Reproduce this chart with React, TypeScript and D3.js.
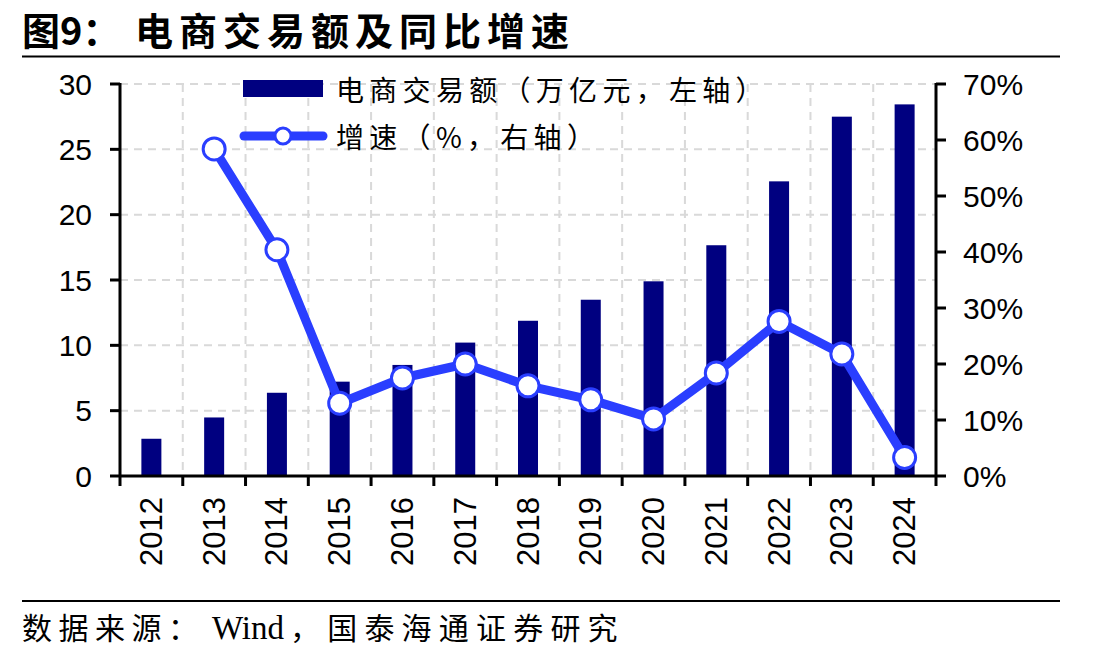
import * as d3 from 'd3';
import React from 'react';

const years = ['2012', '2013', '2014', '2015', '2016', '2017', '2018', '2019', '2020', '2021', '2022', '2023', '2024'];
const tradeVolume = [2.85, 4.48, 6.37, 7.22, 8.5, 10.21, 11.88, 13.49, 14.9, 17.66, 22.55, 27.5, 28.44];
const growth = [null, 58.4, 40.4, 13.0, 17.5, 20.0, 16.1, 13.6, 10.2, 18.4, 27.6, 21.8, 3.3];
const leftTicks = [0, 5, 10, 15, 20, 25, 30];
const rightTicks = [0, 10, 20, 30, 40, 50, 60, 70];

const BAR = '#000080';
const LINE = '#2a3eff';
const NUM_FONT = '"Liberation Sans", Arial, sans-serif';
const SERIF_FONT = '"Liberation Serif", "Times New Roman", serif';
const CJK_FONT = '"Noto Sans CJK SC", sans-serif';

const W = 1108;
const H = 660;
const plot = { left: 120, right: 936, top: 84, bottom: 476 };

const App = (): JSX.Element => {
  const x = d3.scaleBand<string>().domain(years).range([plot.left, plot.right]).padding(0);
  const yL = d3.scaleLinear().domain([0, 30]).range([plot.bottom, plot.top]);
  const yR = d3.scaleLinear().domain([0, 70]).range([plot.bottom, plot.top]);
  const barW = 20;
  const cx = (yr: string) => (x(yr) as number) + x.bandwidth() / 2;

  const pts = years
    .map((yr, i) => ({ yr, v: growth[i] }))
    .filter((d) => d.v !== null) as { yr: string; v: number }[];

  const linePath = d3
    .line<{ yr: string; v: number }>()
    .x((d) => cx(d.yr))
    .y((d) => yR(d.v))(pts);

  // category boundaries for the vertical grid and the bottom ticks
  const bounds = years.map((yr) => x(yr) as number).concat([plot.right]);

  return (
    <svg width={W} height={H} style={{ position: 'absolute', left: 0, top: 0, background: '#fff' }}>
      {/* title */}
      <text x={22} y={45} fontFamily={CJK_FONT} fontWeight={700} fontSize={38} fill="#000">
        图9：
      </text>
      <text x={135} y={45} fontFamily={CJK_FONT} fontWeight={700} fontSize={38} letterSpacing={6} fill="#000">
        电商交易额及同比增速
      </text>
      <line x1={22} x2={1060} y1={56.5} y2={56.5} stroke="#000" strokeWidth={2} />

      {/* grid */}
      <g stroke="#d9d9d9" strokeWidth={2} strokeDasharray="8,6">
        {leftTicks
          .filter((t) => t > 0)
          .map((t) => (
            <line key={'h' + t} x1={plot.left} x2={plot.right} y1={yL(t)} y2={yL(t)} />
          ))}
        {bounds.slice(1, -1).map((b, i) => (
          <line key={'v' + i} x1={b} x2={b} y1={plot.top} y2={plot.bottom} />
        ))}
      </g>

      {/* bars */}
      {years.map((yr, i) => (
        <rect
          key={yr}
          x={cx(yr) - barW / 2}
          y={yL(tradeVolume[i])}
          width={barW}
          height={plot.bottom - yL(tradeVolume[i])}
          fill={BAR}
        />
      ))}

      {/* growth line */}
      <path d={linePath ?? ''} fill="none" stroke={LINE} strokeWidth={9} strokeLinejoin="round" />
      {pts.map((d) => (
        <circle key={d.yr} cx={cx(d.yr)} cy={yR(d.v)} r={11} fill="#fff" stroke={LINE} strokeWidth={3} />
      ))}

      {/* axes */}
      <g stroke="#000" strokeWidth={3}>
        <line x1={plot.left} x2={plot.left} y1={plot.top - 1} y2={plot.bottom + 1} />
        {leftTicks.map((t) => (
          <line key={t} x1={plot.left - 10} x2={plot.left} y1={yL(t)} y2={yL(t)} />
        ))}
        <line x1={plot.right} x2={plot.right} y1={plot.top - 1} y2={plot.bottom + 1} />
        {rightTicks.map((t) => (
          <line key={t} x1={plot.right} x2={plot.right + 10} y1={yR(t)} y2={yR(t)} />
        ))}
        <line x1={plot.left} x2={plot.right} y1={plot.bottom} y2={plot.bottom} />
        {bounds.map((b, i) => (
          <line key={i} x1={b} x2={b} y1={plot.bottom} y2={plot.bottom + 10} />
        ))}
      </g>
      {leftTicks.map((t) => (
        <text
          key={t}
          x={92}
          y={yL(t)}
          textAnchor="end"
          dominantBaseline="central"
          fontFamily={NUM_FONT}
          fontSize={30}
          fill="#000"
        >
          {t}
        </text>
      ))}
      {rightTicks.map((t) => (
        <text
          key={t}
          x={963}
          y={yR(t)}
          dominantBaseline="central"
          fontFamily={NUM_FONT}
          fontSize={30}
          fill="#000"
        >
          {t}%
        </text>
      ))}
      {years.map((yr) => (
        <text
          key={yr}
          transform={`translate(${cx(yr)}, 497) rotate(-90)`}
          textAnchor="end"
          dominantBaseline="central"
          fontFamily={NUM_FONT}
          fontSize={31}
          fill="#000"
        >
          {yr}
        </text>
      ))}

      {/* legend */}
      <rect x={243} y={80} width={80} height={17} fill={BAR} />
      <text x={336} y={89} dominantBaseline="central" fontFamily={CJK_FONT} fontSize={28} letterSpacing={5.3} fill="#000">
        电商交易额（万亿元，左轴）
      </text>
      <line x1={244} x2={323} y1={136} y2={136} stroke={LINE} strokeWidth={9} strokeLinecap="round" />
      <circle cx={283} cy={136} r={8} fill="#fff" stroke={LINE} strokeWidth={3} />
      <text x={336} y={136} dominantBaseline="central" fontFamily={CJK_FONT} fontSize={28} letterSpacing={5.3} fill="#000">
        增速（%，右轴）
      </text>

      {/* source */}
      <line x1={22} x2={1060} y1={601} y2={601} stroke="#000" strokeWidth={2} />
      <text x={22} y={639} fontFamily={CJK_FONT} fontSize={30} letterSpacing={6.5} fill="#000">
        数据来源：
      </text>
      <text x={212} y={639} fontFamily={SERIF_FONT} fontSize={33} fill="#000">
        Wind
      </text>
      <text x={290} y={639} fontFamily={CJK_FONT} fontSize={30} letterSpacing={7.2} fill="#000">
        ，国泰海通证券研究
      </text>
    </svg>
  );
};

export default App;
